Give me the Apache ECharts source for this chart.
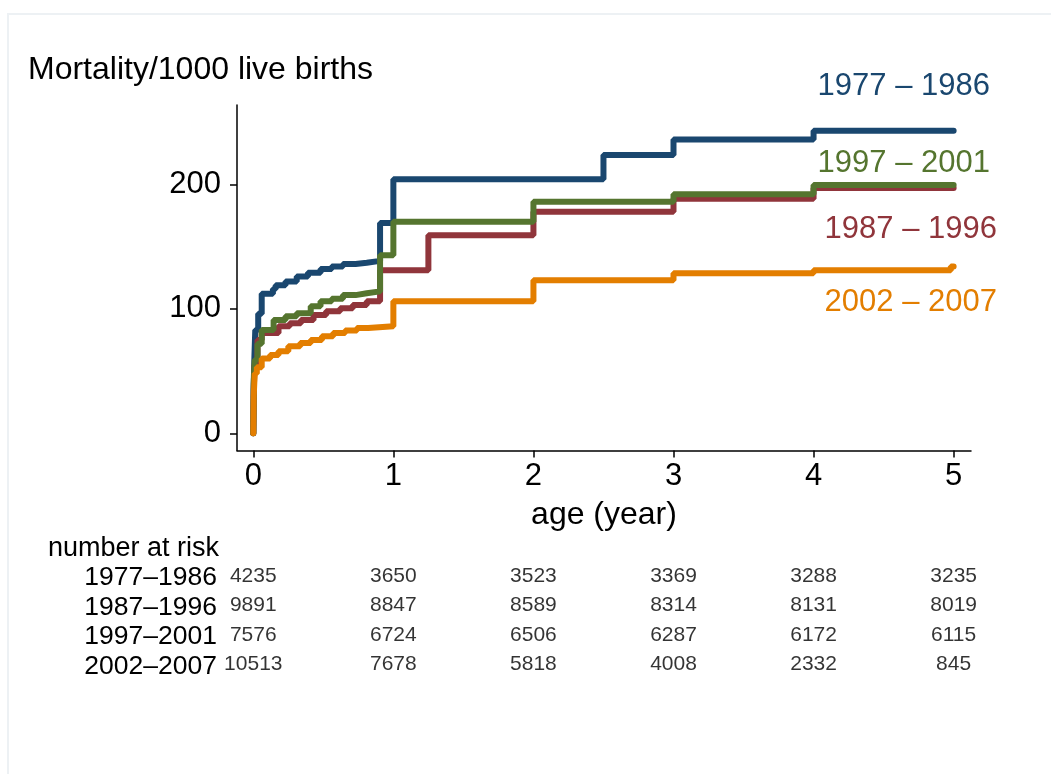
<!DOCTYPE html>
<html>
<head>
<meta charset="utf-8">
<script src="https://cdn.jsdelivr.net/npm/echarts@6/dist/echarts.min.js"></script>
<style>
  html, body { margin: 0; padding: 0; background: #fff; }
  #frame { position: absolute; left: 7px; top: 13px; width: 1100px; height: 800px; border: 2px solid #edf1f4; }
  #chart { position: absolute; left: 0; top: 0; width: 1051px; height: 774px; }
</style>
</head>
<body>
<div id="frame"></div>
<div id="chart"></div>
<script>
// survival-type step curves: time (years) and mortality per 1000 after each step
const t7786 = [0, 0.003, 0.008, 0.014, 0.035, 0.06, 0.14, 0.16, 0.23, 0.31, 0.39, 0.48, 0.56, 0.64, 0.73, 0.81, 0.905, 1.0, 2.5, 3.0, 4.0, 5.0]
const v7786 = [0, 40, 62, 83, 96, 112, 116, 119, 122, 126, 129, 132, 134, 136, 137, 138.5, 169, 204, 223.5, 236, 243, 243]
const t8796 = [0, 0.003, 0.01, 0.03, 0.06, 0.18, 0.26, 0.34, 0.43, 0.52, 0.62, 0.71, 0.81, 0.905, 1.25, 2.0, 3.0, 4.0, 5.0]
const v8796 = [0, 35, 55, 75, 80.5, 86, 88.5, 91, 95, 98, 100.5, 103, 106, 131, 159, 178, 188.5, 197, 197]
const t9701 = [0, 0.003, 0.01, 0.03, 0.06, 0.145, 0.23, 0.31, 0.41, 0.48, 0.56, 0.64, 0.73, 0.81, 0.905, 1.0, 2.0, 3.0, 4.0, 5.0]
const v9701 = [0, 40, 59, 72, 83, 91, 94, 96.5, 102, 106, 108, 111, 112.5, 114, 143, 170, 186, 192, 199.5, 199.5]
const t0207 = [0, 0.003, 0.01, 0.025, 0.06, 0.12, 0.18, 0.25, 0.335, 0.41, 0.49, 0.57, 0.656, 0.74, 0.82, 1.0, 2.0, 3.0, 4.0, 4.98, 5.0]
const v0207 = [0, 30, 48, 53, 60, 63, 66, 70, 72.5, 75, 78, 80.5, 82.5, 84.5, 86, 106, 123, 128.5, 131, 134, 134]

const xTicks = [0, 1, 2, 3, 4, 5]
const yTicks = [0, 100, 200]

// number at risk table
const riskRows = ['1977–1986', '1987–1996', '1997–2001', '2002–2007']
const risk7786 = [4235, 3650, 3523, 3369, 3288, 3235]
const risk8796 = [9891, 8847, 8589, 8314, 8131, 8019]
const risk9701 = [7576, 6724, 6506, 6287, 6172, 6115]
const risk0207 = [10513, 7678, 5818, 4008, 2332, 845]

const colors = ['#1a476f', '#90353b', '#55752f', '#e37e00']
const font = 'Liberation Sans, Helvetica, Arial, sans-serif'

function pts(t, v) {
  return t.map(function(x, i) { return [x, v[i]] })
}

let riskData = []
;[risk7786, risk8796, risk9701, risk0207].forEach(function(row, r) {
  row.forEach(function(n, c) {
    riskData.push([xTicks[c], riskRows[r], n])
  })
})

function curve(name, t, v, color) {
  return {
    name: name,
    type: 'line',
    step: 'end',
    symbol: 'none',
    xAxisIndex: 0,
    yAxisIndex: 0,
    data: pts(t, v),
    lineStyle: { color: color, width: 6, cap: 'round' }
  }
}

let myChart = echarts.init(document.getElementById('chart'))
let option = {
  animation: false,
  textStyle: { fontFamily: font },
  grid: [
    { left: 237, top: 105, width: 734, height: 345.5, outerBoundsMode: 'none' },
    { left: 237, top: 563, width: 734, height: 118, outerBoundsMode: 'none' }
  ],
  xAxis: [
    {
      type: 'value',
      gridIndex: 0,
      min: -0.1164,
      max: 5.124,
      name: 'age (year)',
      nameLocation: 'middle',
      nameGap: 49,
      nameTextStyle: { fontSize: 32, color: '#000', fontFamily: font },
      axisLine: { onZero: false, lineStyle: { color: '#000', width: 1.5 } },
      axisTick: { customValues: xTicks, length: 7, lineStyle: { color: '#000', width: 1.5 } },
      axisLabel: { customValues: xTicks, fontSize: 31, color: '#000', margin: 10 },
      splitLine: { show: false }
    },
    {
      type: 'value',
      gridIndex: 1,
      min: -0.1164,
      max: 5.124,
      show: false
    }
  ],
  yAxis: [
    {
      type: 'value',
      gridIndex: 0,
      min: -13.8,
      max: 263.7,
      axisLine: { show: true, onZero: false, lineStyle: { color: '#000', width: 1.5 } },
      axisTick: { show: true, customValues: yTicks, length: 7, lineStyle: { color: '#000', width: 1.5 } },
      axisLabel: { customValues: yTicks, fontSize: 31, color: '#000', margin: 16 },
      splitLine: { show: false }
    },
    {
      type: 'category',
      gridIndex: 1,
      data: riskRows,
      inverse: true,
      axisLine: { show: false },
      axisTick: { show: false },
      axisLabel: { interval: 0, fontSize: 26.5, color: '#000', margin: 20 },
      splitLine: { show: false }
    }
  ],
  graphic: [
    { type: 'text', left: 28, top: 54, style: { text: 'Mortality/1000 live births', fontSize: 32, fill: '#000', fontFamily: font } },
    { type: 'text', left: 48, top: 535, style: { text: 'number at risk', fontSize: 27, fill: '#000', fontFamily: font } },
    { type: 'text', right: 61, top: 71, style: { text: '1977 – 1986', fontSize: 31, fill: colors[0], fontFamily: font } },
    { type: 'text', right: 61, top: 148, style: { text: '1997 – 2001', fontSize: 31, fill: colors[2], fontFamily: font } },
    { type: 'text', right: 54, top: 214, style: { text: '1987 – 1996', fontSize: 31, fill: colors[1], fontFamily: font } },
    { type: 'text', right: 54, top: 287, style: { text: '2002 – 2007', fontSize: 31, fill: colors[3], fontFamily: font } }
  ],
  series: [
    curve('1977–1986', t7786, v7786, colors[0]),
    curve('1987–1996', t8796, v8796, colors[1]),
    curve('1997–2001', t9701, v9701, colors[2]),
    curve('2002–2007', t0207, v0207, colors[3]),
    {
      name: 'at risk',
      type: 'scatter',
      xAxisIndex: 1,
      yAxisIndex: 1,
      symbolSize: 0,
      itemStyle: { color: 'transparent' },
      data: riskData,
      label: {
        show: true,
        position: 'inside',
        offset: [0, -2],
        fontSize: 21,
        color: '#000',
        textBorderWidth: 0,
        formatter: function(p) { return p.value[2] }
      }
    }
  ]
}
myChart.setOption(option)
window.addEventListener('resize', function() {
  myChart.resize()
})
</script>
</body>
</html>
